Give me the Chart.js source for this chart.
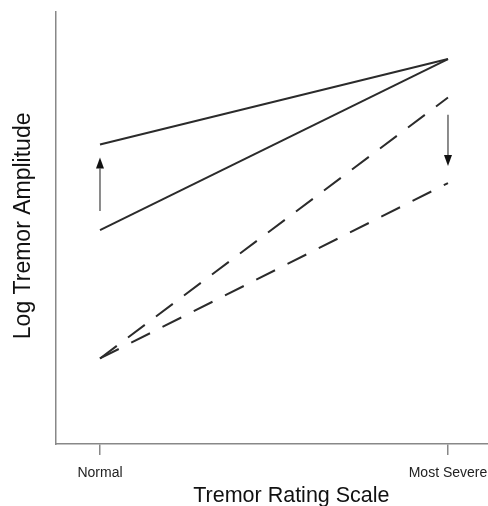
<!DOCTYPE html>
<html lang="en">
<head>
  <meta charset="UTF-8">
  <title>Tremor</title>
  <style>
    html, body { margin: 0; padding: 0; background: #fff; }
    .chartBox { width: 488px; height: 506px; }
  </style>
</head>
<body>
<div class="chartBox">
  <canvas id="myChart"></canvas>
</div>
<script src="https://cdn.jsdelivr.net/npm/chart.js"></script>
<script>
  // categories on the x axis (0 = Normal, 1 = Most Severe)
  const xLabels = ['Normal', 'Most Severe'];
  const xPos = [0, 1];

  // log tremor amplitude at each end (arbitrary units)
  const solidUpper = [7, 9];
  const solidLower = [5, 9];
  const dashedUpper = [2, 8.1];
  const dashedLower = [2, 6.1];

  // arrows: x position, start value, tip value
  const arrowX = [0, 1];
  const arrowFrom = [5.45, 7.7];
  const arrowTo = [6.7, 6.5];

  const xTitle = 'Tremor Rating Scale';
  const yTitle = 'Log Tremor Amplitude';

  const toPoints = (vals) => vals.map((v, i) => ({x: xPos[i], y: v}));

  const arrowPlugin = {
    id: 'arrows',
    afterDatasetsDraw(chart) {
      const c = chart.ctx;
      const xs = chart.scales.x;
      const ys = chart.scales.y;
      for (let i = 0; i < arrowX.length; i++) {
        const px = xs.getPixelForValue(arrowX[i]);
        const y0 = ys.getPixelForValue(arrowFrom[i]);
        const y1 = ys.getPixelForValue(arrowTo[i]);
        const dir = y1 < y0 ? 1 : -1;
        const head = 11;
        c.save();
        c.strokeStyle = '#666';
        c.lineWidth = 1.5;
        c.beginPath();
        c.moveTo(px, y0);
        c.lineTo(px, y1 + dir * head);
        c.stroke();
        c.fillStyle = '#111';
        c.beginPath();
        c.moveTo(px, y1);
        c.lineTo(px - 4, y1 + dir * head);
        c.lineTo(px + 4, y1 + dir * head);
        c.closePath();
        c.fill();
        c.restore();
      }
    }
  };

  // axis titles, placed a bit off-centre like the original figure
  const titlePlugin = {
    id: 'axisTitles',
    afterDraw(chart) {
      const c = chart.ctx;
      const xs = chart.scales.x;
      const ys = chart.scales.y;
      c.save();
      c.fillStyle = '#111';
      c.textAlign = 'center';
      c.textBaseline = 'alphabetic';
      c.font = '21.5px "Liberation Sans"';
      c.fillText(xTitle, xs.getPixelForValue(0.55), chart.height - 4);
      c.translate(24, ys.getPixelForValue(5.1));
      c.rotate(-Math.PI / 2);
      c.textBaseline = 'middle';
      c.font = '23px "Liberation Sans"';
      c.fillText(yTitle, 0, 0);
      c.restore();
    }
  };

  const lineStyle = {
    borderColor: '#2b2b2b',
    borderWidth: 2,
    pointRadius: 0,
    fill: false,
    tension: 0
  };

  const ctx = document.getElementById('myChart');
  const myChart = new Chart(ctx, {
    type: 'line',
    data: {
      datasets: [
        Object.assign({label: 'a', data: toPoints(solidUpper)}, lineStyle),
        Object.assign({label: 'b', data: toPoints(solidLower)}, lineStyle),
        Object.assign({label: 'c', data: toPoints(dashedUpper), borderDash: [21, 14]}, lineStyle),
        Object.assign({label: 'd', data: toPoints(dashedLower), borderDash: [21, 14]}, lineStyle)
      ]
    },
    options: {
      responsive: true,
      maintainAspectRatio: false,
      animation: false,
      layout: { padding: { top: 12, right: 0, left: 0, bottom: 0 } },
      plugins: {
        legend: { display: false },
        tooltip: { enabled: false }
      },
      scales: {
        x: {
          type: 'linear',
          min: -0.1264,
          max: 1.115,
          afterBuildTicks: (scale) => { scale.ticks = xPos.map(v => ({value: v})); },
          afterFit: (scale) => {
            scale.height = 62;
            scale.paddingLeft = 0;
            scale.paddingRight = 0;
          },
          ticks: {
            padding: 10,
            color: '#222',
            font: { family: 'Liberation Sans', size: 14 },
            maxRotation: 0,
            autoSkip: false,
            callback: (value) => xLabels[xPos.indexOf(value)]
          },
          grid: {
            drawOnChartArea: false,
            drawTicks: true,
            tickLength: 11,
            color: '#888',
            lineWidth: 1.5
          },
          border: { display: true, color: '#888', width: 1.5 },
          title: { display: false }
        },
        y: {
          min: 0,
          max: 10.1,
          afterFit: (scale) => {
            scale.width = 56;
            scale.paddingTop = 0;
            scale.paddingBottom = 0;
          },
          ticks: { display: false },
          grid: { display: false },
          border: { display: true, color: '#888', width: 1.5 },
          title: { display: false }
        }
      }
    },
    plugins: [arrowPlugin, titlePlugin]
  });
</script>
</body>
</html>
